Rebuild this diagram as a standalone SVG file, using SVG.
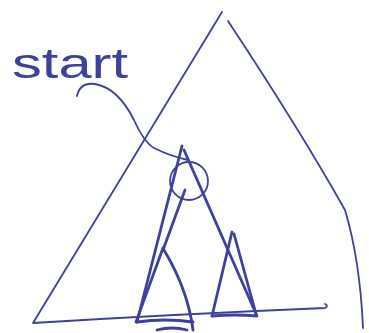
<svg xmlns="http://www.w3.org/2000/svg" width="369" height="333" viewBox="0 0 369 333">
<style>
.ink{fill:none;stroke:#3d419c;stroke-linecap:round;stroke-linejoin:round}
.thin{stroke-width:1.8}
.thick{stroke-width:2.8}
.lbl{font-family:"Liberation Sans",Arial,sans-serif;fill:#3d419c}
</style>
<rect width="369" height="333" fill="#ffffff"/>
<g id="tree">
<path class="ink thin" d="M222,12 L33,323 Q180,314 325,308 Q329,306 325,304"/>
<path class="ink thin" d="M228,21 Q300,130 345,210 Q360,260 363,328"/>
</g>
<g id="subtree">
<path class="ink thick" d="M182,146 L137,322"/>
<path class="ink thick" d="M185,190 L163,250"/>
<path class="ink thick" d="M184,150 L257,316 Q235,314 212,316"/>
<path class="ink thick" d="M232,232 L212,316"/>
<path class="ink thick" d="M234,234 L256,314"/>
<path class="ink thick" d="M163,248 L136,322"/>
<path class="ink thick" d="M164,250 Q188,290 193,330"/>
<path class="ink thick" d="M137,322 Q165,318 193,322"/>
<path class="ink thick" d="M157,330 Q172,326 187,330"/>
</g>
<g id="start-node">
<circle class="ink thin" cx="189" cy="181" r="19"/>
</g>
<g id="connectors">
<path class="ink thin" d="M77,96 Q80,82 95,84 Q118,88 134,120 Q144,142 154,148 Q170,156 188,160"/>
</g>
<g id="label">
<text class="lbl" x="12" y="78" font-size="42" textLength="116" lengthAdjust="spacingAndGlyphs">start</text>
</g>
</svg>
